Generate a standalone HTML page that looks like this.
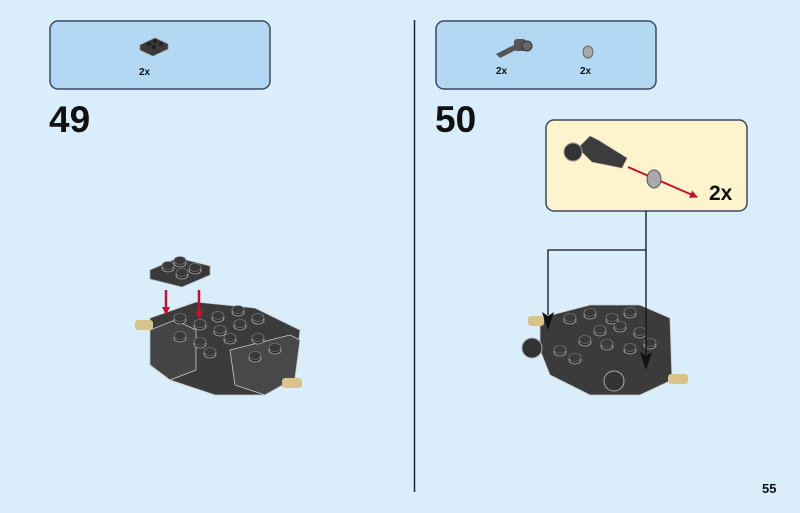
<!DOCTYPE html>
<html><head><meta charset="utf-8"><style>
html,body{margin:0;padding:0;width:800px;height:513px;overflow:hidden;background:#d9edfb}
svg{display:block}
text{font-family:"Liberation Sans",sans-serif;font-weight:bold;fill:#111}
</style></head><body>
<svg width="800" height="513" viewBox="0 0 800 513" xmlns="http://www.w3.org/2000/svg">
<defs>
<marker id="ar" markerWidth="8" markerHeight="8" refX="7" refY="4" orient="auto" markerUnits="userSpaceOnUse"><path d="M0,0 L8,4 L0,8z" fill="#c8102e"/></marker>
<g id="stud"><ellipse cx="0" cy="0" rx="6" ry="4" fill="#2a2a2a" stroke="#bbb" stroke-width="0.8"/><ellipse cx="0" cy="-2.5" rx="6" ry="4" fill="#3a3a3a" stroke="#888" stroke-width="0.6"/></g>
</defs>
<rect width="800" height="513" fill="#d9edfb"/>
<line x1="414.5" y1="20" x2="414.5" y2="492" stroke="#222" stroke-width="1.5"/>
<rect x="50" y="21" width="220" height="68" rx="8" fill="#b3d8f3" stroke="#3a4a5e" stroke-width="1.5"/>
<rect x="436" y="21" width="220" height="68" rx="8" fill="#b3d8f3" stroke="#3a4a5e" stroke-width="1.5"/>
<polygon points="140,45 155,38 168,44 168,49 153,56 140,50" fill="#3a3a3a" stroke="#888" stroke-width="0.6"/>
<circle cx="149" cy="44" r="2.2" fill="#222"/><circle cx="155" cy="41" r="2.2" fill="#222"/><circle cx="154" cy="47" r="2.2" fill="#222"/><circle cx="161" cy="44" r="2.2" fill="#222"/>
<text x="139" y="75" font-size="10">2x</text>
<polygon points="496,54 516,44 520,48 500,58" fill="#555"/>
<rect x="514" y="39" width="12" height="12" rx="3" fill="#555"/><circle cx="527" cy="46" r="5" fill="#666" stroke="#333"/>
<text x="496" y="74" font-size="10">2x</text>
<ellipse cx="588" cy="52" rx="5" ry="6" fill="#aaa" stroke="#666"/>
<text x="580" y="74" font-size="10">2x</text>
<text x="49" y="132" font-size="37">49</text>
<text x="435" y="132" font-size="37">50</text>
<text x="762" y="493" font-size="13">55</text>
<rect x="546" y="120" width="201" height="91" rx="8" fill="#fdf3cc" stroke="#3a4a5e" stroke-width="1.5"/>
<polygon points="578,148 590,136 598,140 627,158 622,168 592,162" fill="#3c3c3c" stroke="#999" stroke-width="0.6"/>
<circle cx="573" cy="152" r="9" fill="#333" stroke="#999"/>
<line x1="628" y1="167" x2="697" y2="197" stroke="#c8102e" stroke-width="2" marker-end="url(#ar)"/>
<ellipse cx="654" cy="179" rx="7" ry="9" fill="#aaa" stroke="#555"/>
<text x="709" y="200" font-size="21">2x</text>
<g>
<polygon points="150,318 196,302 255,308 300,330 295,378 265,395 215,395 170,380 150,365" fill="#3b3b3b" stroke="#ccc" stroke-width="0.8"/>
<polygon points="150,330 175,320 196,330 196,370 170,380 150,365" fill="#444" stroke="#ccc" stroke-width="0.8"/>
<polygon points="230,350 290,335 300,340 295,378 265,395 235,385" fill="#484848" stroke="#ccc" stroke-width="0.8"/>
<rect x="135" y="320" width="18" height="10" rx="3" fill="#d8c48a"/>
<rect x="282" y="378" width="20" height="10" rx="3" fill="#d8c48a"/>
<use href="#stud" x="180" y="320"/><use href="#stud" x="200" y="326"/><use href="#stud" x="218" y="318"/><use href="#stud" x="238" y="312"/>
<use href="#stud" x="220" y="332"/><use href="#stud" x="240" y="326"/><use href="#stud" x="258" y="320"/>
<use href="#stud" x="180" y="338"/><use href="#stud" x="200" y="344"/><use href="#stud" x="258" y="340"/><use href="#stud" x="275" y="350"/>
<use href="#stud" x="230" y="340"/><use href="#stud" x="210" y="354"/><use href="#stud" x="255" y="358"/>
<polygon points="150,270 178,258 210,266 210,275 182,287 150,279" fill="#3a3a3a" stroke="#aaa" stroke-width="0.8"/>
<use href="#stud" x="168" y="268"/><use href="#stud" x="180" y="263"/><use href="#stud" x="182" y="275"/><use href="#stud" x="195" y="270"/>
<line x1="166" y1="290" x2="166" y2="314" stroke="#c8102e" stroke-width="2.5" marker-end="url(#ar)"/>
<line x1="199" y1="290" x2="199" y2="318" stroke="#c8102e" stroke-width="2.5" marker-end="url(#ar)"/>
</g>
<g>
<polygon points="540,318 590,305 640,305 670,318 672,380 640,395 590,395 550,375 540,350" fill="#3b3b3b" stroke="#ccc" stroke-width="0.8"/>
<rect x="528" y="316" width="16" height="10" rx="3" fill="#d8c48a"/>
<rect x="668" y="374" width="20" height="10" rx="3" fill="#d8c48a"/>
<circle cx="532" cy="348" r="10" fill="#333" stroke="#aaa"/>
<circle cx="614" cy="381" r="10" fill="#333" stroke="#aaa"/>
<use href="#stud" x="570" y="320"/><use href="#stud" x="590" y="315"/><use href="#stud" x="612" y="320"/><use href="#stud" x="630" y="314"/>
<use href="#stud" x="600" y="332"/><use href="#stud" x="620" y="328"/><use href="#stud" x="640" y="334"/>
<use href="#stud" x="585" y="342"/><use href="#stud" x="607" y="346"/><use href="#stud" x="630" y="350"/><use href="#stud" x="650" y="345"/>
<use href="#stud" x="575" y="360"/><use href="#stud" x="560" y="352"/>
</g>
<polyline points="646,211 646,250 548,250 548,315" fill="none" stroke="#111" stroke-width="1.3"/>
<line x1="646" y1="250" x2="646" y2="355" stroke="#111" stroke-width="1.3"/>
<path d="M542,312 L548,330 L554,312 L548,316z" fill="#111"/>
<path d="M640,352 L646,370 L652,352 L646,356z" fill="#111"/>
</svg>
</body></html>
